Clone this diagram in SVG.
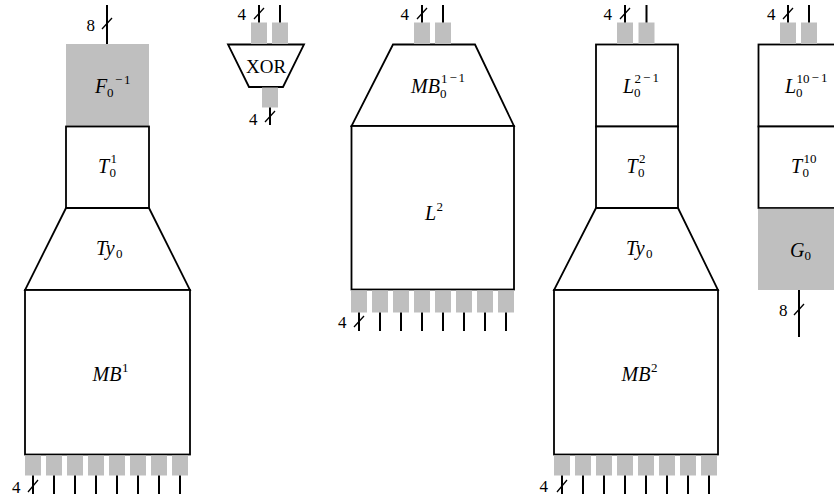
<svg xmlns="http://www.w3.org/2000/svg" width="834" height="498" viewBox="0 0 834 498">
<style>
.box{fill:#fff;stroke:#000;stroke-width:1.8}
.gray{fill:#bfbfbf;stroke:none}
.pad{fill:#bfbfbf}
.w{stroke:#000;stroke-width:2;fill:none}
.sl{stroke:#000;stroke-width:1.3;fill:none}
.m{font-family:"Liberation Serif",serif;font-style:italic;font-size:20px;fill:#000}
.n{font-family:"Liberation Serif",serif;font-style:normal;fill:#000}
.s{font-size:13px}
.d{font-family:"Liberation Serif",serif;font-size:17px;fill:#000}
.x{font-family:"Liberation Serif",serif;font-size:19px;fill:#000}
</style>
<rect width="834" height="498" fill="#fff"/>
<g id="F0inv">
<rect class="gray" x="66" y="44" width="83" height="82"/>
<text class="m" x="95" y="93">F</text><text class="n s" x="107" y="97">0</text><text class="n s" x="115" y="84">−</text><text class="n s" x="124" y="84">1</text>
</g>
<g id="T01">
<rect class="box" x="66" y="126.5" width="83" height="81.5"/>
<text class="m" x="98" y="172.5">T</text><text class="n s" x="109.5" y="177">0</text><text class="n s" x="110.5" y="162.5">1</text>
</g>
<g id="Ty0a">
<polygon class="box" points="66,208 149,208 190,290 25,290"/>
<text class="m" x="96" y="254.5">Ty</text><text class="n s" x="116" y="258">0</text>
</g>
<g id="MB1">
<rect class="box" x="25" y="290" width="165" height="164.5"/>
<text class="m" x="92.5" y="381">MB</text><text class="n s" x="122" y="372">1</text>
</g>
<g id="XOR">
<polygon class="box" points="228,44.5 304,44.5 283,87 249,87"/>
<text class="x" x="266" y="72.5" text-anchor="middle">XOR</text>
</g>
<g id="MB01inv">
<polygon class="box" points="393,44.5 475,44.5 514,126 351.5,126"/>
<text class="m" x="411" y="93">MB</text><text class="n s" x="440" y="97.5">0</text><text class="n s" x="441" y="83">1</text><text class="n s" x="449.5" y="82">−</text><text class="n s" x="458.5" y="82">1</text>
</g>
<g id="L2">
<rect class="box" x="351.5" y="126" width="162.5" height="163.5"/>
<text class="m" x="425" y="219.5">L</text><text class="n s" x="436.5" y="210.5">2</text>
</g>
<g id="L02inv">
<rect class="box" x="596" y="44.5" width="82" height="82"/>
<text class="m" x="623" y="92.5">L</text><text class="n s" x="634" y="97">0</text><text class="n s" x="634.5" y="83">2</text><text class="n s" x="643" y="82">−</text><text class="n s" x="652.5" y="82">1</text>
</g>
<g id="T02">
<rect class="box" x="596" y="126.5" width="82" height="81.5"/>
<text class="m" x="626.5" y="172.5">T</text><text class="n s" x="638" y="177">0</text><text class="n s" x="639" y="162.5">2</text>
</g>
<g id="Ty0b">
<polygon class="box" points="596,208 678,208 718,290 554,290"/>
<text class="m" x="626" y="254.5">Ty</text><text class="n s" x="646" y="258">0</text>
</g>
<g id="MB2">
<rect class="box" x="554" y="290" width="164" height="164.5"/>
<text class="m" x="621.5" y="381">MB</text><text class="n s" x="651" y="372">2</text>
</g>
<g id="L010inv">
<rect class="box" x="758.5" y="44.5" width="83" height="82"/>
<text class="m" x="785" y="92.5">L</text><text class="n s" x="796" y="97">0</text><text class="n s" x="796.5" y="83">10</text><text class="n s" x="811.5" y="82">−</text><text class="n s" x="821" y="82">1</text>
</g>
<g id="T010">
<rect class="box" x="758.5" y="126.5" width="83" height="81.5"/>
<text class="m" x="791" y="172.5">T</text><text class="n s" x="802.5" y="177">0</text><text class="n s" x="803.5" y="162.5">10</text>
</g>
<g id="G0">
<rect class="gray" x="758" y="208.8" width="84" height="81.2"/>
<text class="m" x="790" y="256.5">G</text><text class="n s" x="804.5" y="260">0</text>
</g>
<g id="pads">
<rect class="pad" x="251" y="22.5" width="16" height="21.5"/><rect class="pad" x="272" y="22.5" width="16" height="21.5"/>
<rect class="pad" x="262" y="87.5" width="16" height="20"/>
<rect class="pad" x="414" y="22.5" width="16" height="21.5"/><rect class="pad" x="435" y="22.5" width="16" height="21.5"/>
<rect class="pad" x="617" y="22.5" width="16" height="21.5"/><rect class="pad" x="638.5" y="22.5" width="16" height="21.5"/>
<rect class="pad" x="780" y="22.5" width="16" height="21.5"/><rect class="pad" x="801" y="22.5" width="16" height="21.5"/>
<rect class="pad" x="25" y="455.5" width="16" height="20"/><rect class="pad" x="46" y="455.5" width="16" height="20"/><rect class="pad" x="67" y="455.5" width="16" height="20"/><rect class="pad" x="88" y="455.5" width="16" height="20"/><rect class="pad" x="109" y="455.5" width="16" height="20"/><rect class="pad" x="130" y="455.5" width="16" height="20"/><rect class="pad" x="151" y="455.5" width="16" height="20"/><rect class="pad" x="172" y="455.5" width="16" height="20"/>
<rect class="pad" x="351" y="290.5" width="16" height="22"/><rect class="pad" x="372" y="290.5" width="16" height="22"/><rect class="pad" x="393" y="290.5" width="16" height="22"/><rect class="pad" x="414" y="290.5" width="16" height="22"/><rect class="pad" x="435" y="290.5" width="16" height="22"/><rect class="pad" x="456" y="290.5" width="16" height="22"/><rect class="pad" x="477" y="290.5" width="16" height="22"/><rect class="pad" x="498" y="290.5" width="16" height="22"/>
<rect class="pad" x="554" y="455.5" width="16" height="20"/><rect class="pad" x="575" y="455.5" width="16" height="20"/><rect class="pad" x="596" y="455.5" width="16" height="20"/><rect class="pad" x="617" y="455.5" width="16" height="20"/><rect class="pad" x="638" y="455.5" width="16" height="20"/><rect class="pad" x="659" y="455.5" width="16" height="20"/><rect class="pad" x="680" y="455.5" width="16" height="20"/><rect class="pad" x="701" y="455.5" width="16" height="20"/>
</g>
<g id="connectors">
<path class="w" d="M107,5V44 M259,5V22.5 M280,5V22.5 M270,107.5V125 M422,5V22.5 M443,5V22.5 M625,5V22.5 M646.5,5V22.5 M788,5V22.5 M809,5V22.5 M799,290V337"/>
<path class="w" d="M33,475.5V494 M54,475.5V494 M75,475.5V494 M96,475.5V494 M117,475.5V494 M138,475.5V494 M159,475.5V494 M180,475.5V494"/>
<path class="w" d="M359,312.5V331 M380,312.5V331 M401,312.5V331 M422,312.5V331 M443,312.5V331 M464,312.5V331 M485,312.5V331 M506,312.5V331"/>
<path class="w" d="M562,475.5V494 M583,475.5V494 M604,475.5V494 M625,475.5V494 M646,475.5V494 M667,475.5V494 M688,475.5V494 M709,475.5V494"/>
<path class="sl" d="M102,29L112,18 M254,19L264,8 M265,122L275,111 M417,19L427,8 M620,19L630,8 M783,19L793,8 M794,315L804,304 M28,492L38,480 M354,327L364,316 M557,492L567,480"/>
<text class="d" x="95" y="31" text-anchor="end">8</text>
<text class="d" x="246" y="19.5" text-anchor="end">4</text>
<text class="d" x="257.5" y="124.5" text-anchor="end">4</text>
<text class="d" x="409" y="19.5" text-anchor="end">4</text>
<text class="d" x="612" y="19.5" text-anchor="end">4</text>
<text class="d" x="775.5" y="19.5" text-anchor="end">4</text>
<text class="d" x="787.5" y="315.5" text-anchor="end">8</text>
<text class="d" x="20.5" y="492.5" text-anchor="end">4</text>
<text class="d" x="346.5" y="327.5" text-anchor="end">4</text>
<text class="d" x="548" y="491.5" text-anchor="end">4</text>
</g>
</svg>
